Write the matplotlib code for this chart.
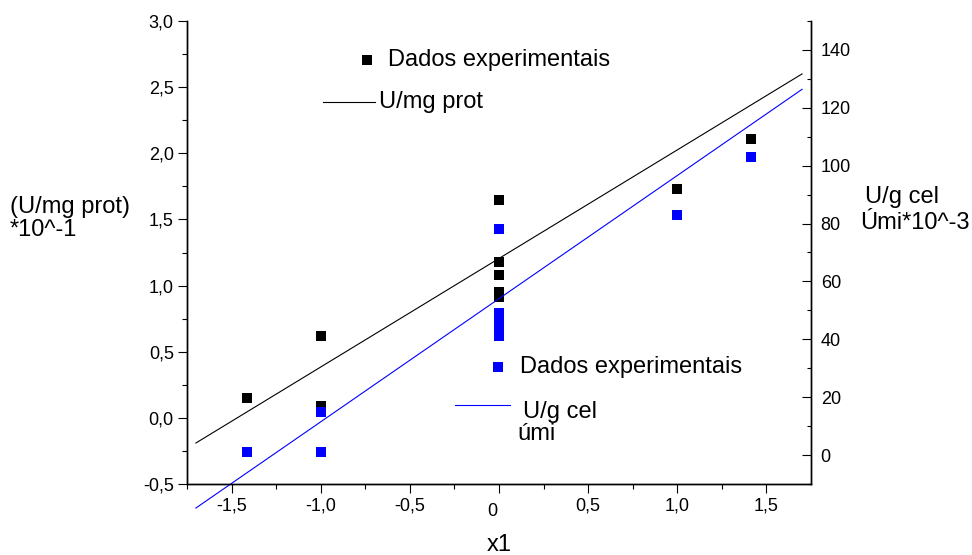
import matplotlib
matplotlib.use("Agg")
import matplotlib.pyplot as plt
from matplotlib.lines import Line2D
from matplotlib.transforms import ScaledTranslation

plt.rcParams['font.family'] = ['Liberation Sans', 'DejaVu Sans']

# experimental data, left axis (U/mg prot *10^-1)
x_black = [-1.414, -1.0, -1.0, 0, 0, 0, 0, 0, 1.0, 1.414]
y_black = [0.15, 0.62, 0.09, 1.65, 1.18, 1.08, 0.95, 0.91, 1.73, 2.11]

# experimental data, right axis (U/g cel umi *10^-3)
x_blue = [-1.414, -1.0, -1.0, 0, 0, 0, 0, 0, 0, 1.0, 1.414]
y_blue = [1, 15, 1, 78, 49, 47, 45, 43, 41, 83, 103]

# fitted lines (end points)
fit_x = [-1.7, 1.7]
fit_black = [-0.19, 2.6]
fit_blue = [-18.3, 126.4]

xticks = [-1.5, -1.0, -0.5, 0, 0.5, 1.0, 1.5]
xtick_labels = ['-1,5', '-1,0', '-0,5', '0', '0,5', '1,0', '1,5']
yticks_left = [-0.5, 0.0, 0.5, 1.0, 1.5, 2.0, 2.5, 3.0]
ytick_labels_left = ['-0,5', '0,0', '0,5', '1,0', '1,5', '2,0', '2,5', '3,0']
yticks_right = [0, 20, 40, 60, 80, 100, 120, 140]

fig = plt.figure(figsize=(9.72, 5.55), dpi=100)
ax = fig.add_axes([187/972, 1-484/555, (811-187)/972, (484-21)/555])
ax2 = ax.twinx()

ax.plot(fit_x, fit_black, color='black', lw=0.8)
ax.plot(x_black, y_black, 's', color='black', ms=7, mew=0)
ax2.plot(fit_x, fit_blue, color='#0000ff', lw=0.8, clip_on=False)
ax2.plot(x_blue, y_blue, 's', color='#0000ff', ms=7, mew=0)

ax.set_xlim(-1.75, 1.75)
ax.set_ylim(-0.5, 3.0)
ax2.set_ylim(-10, 150)

for a in (ax, ax2):
    a.spines['top'].set_visible(False)
    for s in a.spines.values():
        s.set_linewidth(1.0)

ax.set_xticks(xticks)
ax.set_xticklabels(xtick_labels)
ax.set_xticks([-1.75, -1.25, -0.75, -0.25, 0.25, 0.75, 1.25], minor=True)
ax.set_yticks(yticks_left)
ax.set_yticklabels(ytick_labels_left)
ax.set_yticks([-0.25, 0.25, 0.75, 1.25, 1.75, 2.25, 2.75], minor=True)
ax.tick_params(which='major', direction='out', length=6.5, width=0.8, labelsize=13, pad=3)
ax.tick_params(which='minor', direction='out', length=3.5, width=0.8)

ax2.set_yticks(yticks_right)
ax2.set_yticks([-10, 10, 30, 50, 70, 90, 110, 130, 150], minor=True)
ax2.tick_params(which='major', direction='in', length=6.5, width=0.8, labelsize=13, pad=7)
ax2.tick_params(which='minor', direction='in', length=3, width=0.8)

# the "0" label sits a bit lower and to the left in the original
for lab in ax.get_xticklabels():
    if lab.get_text() == '0':
        lab.set_transform(lab.get_transform() + ScaledTranslation(-5/72, -4/72, fig.dpi_scale_trans))

# axis titles
fig.text(10/972, 1-213/555, '(U/mg prot)', fontsize=17, va='baseline')
fig.text(10/972, 1-236/555, '*10^-1', fontsize=17, va='baseline')
fig.text(865/972, 1-203/555, 'U/g cel', fontsize=17, va='baseline')
fig.text(860/972, 1-229/555, 'Úmi*10^-3', fontsize=17, va='baseline')
fig.text(499/972, 1-551/555, 'x1', fontsize=17, ha='center', va='baseline')

# keys
fig.add_artist(Line2D([367/972], [1-60/555], marker='s', color='black', ms=7, mew=0))
fig.text(388/972, 1-60/555, 'Dados experimentais', fontsize=17, va='center')
fig.add_artist(Line2D([323/972, 375/972], [1-102/555, 1-102/555], color='black', lw=0.8))
fig.text(379/972, 1-102/555, 'U/mg prot', fontsize=17, va='center')

fig.add_artist(Line2D([498/972], [1-367/555], marker='s', color='#0000ff', ms=7, mew=0))
fig.text(520/972, 1-367/555, 'Dados experimentais', fontsize=17, va='center')
fig.add_artist(Line2D([455/972, 510/972], [1-405/555, 1-405/555], color='#0000ff', lw=0.8))
fig.text(523/972, 1-418/555, 'U/g cel', fontsize=17, va='baseline')
fig.text(517/972, 1-440/555, 'úmi', fontsize=17, va='baseline')

fig.savefig('out.png', dpi=100)
